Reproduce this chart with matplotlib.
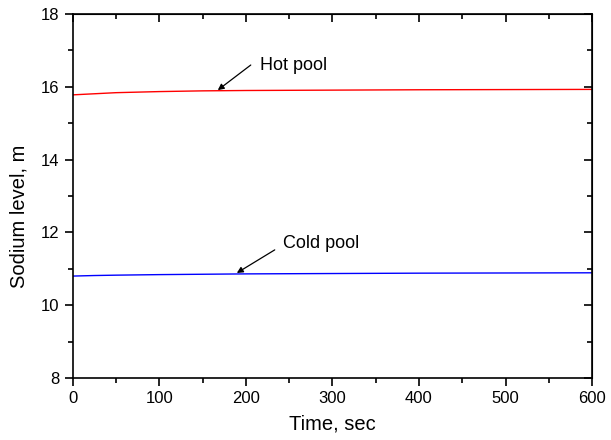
import numpy as np
import matplotlib.pyplot as plt
from matplotlib.ticker import MultipleLocator

plt.rcParams['font.family'] = ['Liberation Sans', 'DejaVu Sans']

time = [0, 25, 50, 100, 150, 200, 300, 400, 500, 600]
hot_pool = [15.78, 15.81, 15.84, 15.87, 15.89, 15.90, 15.91, 15.92, 15.925, 15.93]
cold_pool = [10.80, 10.815, 10.825, 10.84, 10.85, 10.86, 10.87, 10.88, 10.885, 10.89]

fig = plt.figure(figsize=(6.11, 4.4), dpi=100)
ax = fig.add_axes([0.119, 0.141, 0.85, 0.827])

ax.plot(time, hot_pool, color='red', lw=1)
ax.plot(time, cold_pool, color='blue', lw=1)

arrow = dict(arrowstyle='-|>', color='black', lw=0.9, shrinkA=0, shrinkB=0,
             mutation_scale=9)
ax.annotate('', xy=(167.6, 15.91), xytext=(205.7, 16.6), arrowprops=arrow)
ax.text(216, 16.46, 'Hot pool', fontsize=13, ha='left', va='baseline')
ax.annotate('', xy=(189.6, 10.885), xytext=(233.4, 11.52), arrowprops=arrow)
ax.text(242.6, 11.57, 'Cold pool', fontsize=13, ha='left', va='baseline')

ax.set_xlim(0, 600)
ax.set_ylim(8, 18)
ax.xaxis.set_major_locator(MultipleLocator(100))
ax.xaxis.set_minor_locator(MultipleLocator(50))
ax.yaxis.set_major_locator(MultipleLocator(2))
ax.yaxis.set_minor_locator(MultipleLocator(1))

ax.tick_params(which='both', direction='out', top=False, right=False, labelsize=12, width=1.2)
ax.tick_params(which='major', length=6)
ax.tick_params(which='minor', length=3.5)
for s in ax.spines.values():
    s.set_linewidth(1.2)

# inward ticks on the top and right edges
axt = ax.secondary_xaxis('top')
axt.xaxis.set_major_locator(MultipleLocator(100))
axt.xaxis.set_minor_locator(MultipleLocator(50))
axt.tick_params(which='both', direction='in', labeltop=False, width=1.2)
axt.tick_params(which='major', length=6)
axt.tick_params(which='minor', length=3.5)
axr = ax.secondary_yaxis('right')
axr.yaxis.set_major_locator(MultipleLocator(2))
axr.yaxis.set_minor_locator(MultipleLocator(1))
axr.tick_params(which='both', direction='in', labelright=False, width=1.2)
axr.tick_params(which='major', length=6)
axr.tick_params(which='minor', length=3.5)

ax.set_xlabel('Time, sec', fontsize=14.5, labelpad=6)
ax.set_ylabel('Sodium level, m', fontsize=14.5)
ax.yaxis.set_label_coords(-0.086, 0.445)

fig.savefig('out.png', dpi=100)
